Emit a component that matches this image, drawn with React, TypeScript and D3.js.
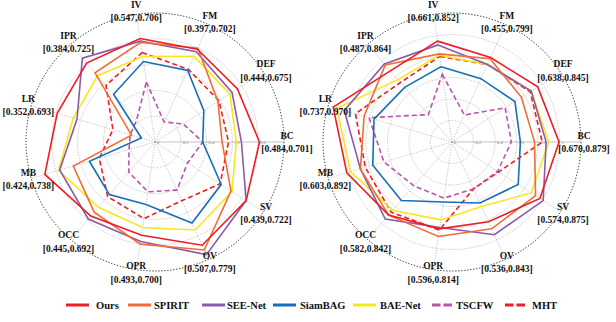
import React from "react";
import * as d3 from "d3";

const AXES = ["IV", "FM", "DEF", "BC", "SV", "OV", "OPR", "OCC", "MB", "LR", "IPR"];

const LEFT_RANGES = ["[0.547,0.706]", "[0.397,0.702]", "[0.444,0.675]", "[0.484,0.701]", "[0.439,0.722]", "[0.507,0.779]", "[0.493,0.700]", "[0.445,0.692]", "[0.424,0.738]", "[0.352,0.693]", "[0.384,0.725]"];
const RIGHT_RANGES = ["[0.661,0.852]", "[0.455,0.799]", "[0.638,0.845]", "[0.670,0.879]", "[0.574,0.875]", "[0.536,0.843]", "[0.596,0.814]", "[0.582,0.842]", "[0.603,0.892]", "[0.737,0.970]", "[0.487,0.864]"];

const METHODS = ["Ours", "SPIRIT", "SEE-Net", "SiamBAG", "BAE-Net", "TSCFW", "MHT"];
const COLORS = ["#ee1c24", "#f26c35", "#8c5aab", "#166eb9", "#f8e71c", "#bd52ad", "#ee1c24"];
const DASHED = [false, false, false, false, false, true, true];

// values per axis (IV, FM, DEF, BC, SV, OV, OPR, OCC, MB, LR, IPR), as fraction of outer radius
const LEFT_OURS = [0.81, 0.79, 0.76, 0.81, 0.84, 0.88, 0.73, 0.76, 0.89, 0.79, 0.81];
const LEFT_SPIRIT = [0.78, 0.80, 0.58, 0.52, 0.70, 0.92, 0.80, 0.72, 0.66, 0.19, 0.71];
const LEFT_SEENET = [0.79, 0.77, 0.71, 0.67, 0.84, 0.96, 0.78, 0.79, 0.77, 0.63, 0.86];
const LEFT_SIAMBAG = [0.63, 0.61, 0.45, 0.37, 0.61, 0.69, 0.49, 0.54, 0.53, 0.11, 0.49];
const LEFT_BAENET = [0.67, 0.73, 0.69, 0.63, 0.71, 0.75, 0.67, 0.67, 0.78, 0.66, 0.68];
const LEFT_TSCFW = [0.47, 0.17, 0.26, 0.37, 0.30, 0.41, 0.39, 0.31, 0.21, 0.20, 0.22];
const LEFT_MHT = [0.70, 0.62, 0.59, 0.57, 0.60, 0.50, 0.60, 0.56, 0.45, 0.34, 0.58];

const RIGHT_OURS = [0.79, 0.72, 0.79, 0.83, 0.81, 0.68, 0.68, 0.75, 0.85, 0.96, 0.73];
const RIGHT_SPIRIT = [0.69, 0.71, 0.64, 0.64, 0.77, 0.74, 0.74, 0.75, 0.74, 0.71, 0.79];
const RIGHT_SEENET = [0.76, 0.66, 0.73, 0.73, 0.84, 0.79, 0.67, 0.79, 0.74, 0.87, 0.80];
const RIGHT_SIAMBAG = [0.59, 0.54, 0.58, 0.53, 0.61, 0.52, 0.47, 0.60, 0.64, 0.63, 0.56];
const RIGHT_BAENET = [0.68, 0.66, 0.73, 0.75, 0.73, 0.55, 0.61, 0.70, 0.82, 0.93, 0.64];
const RIGHT_TSCFW = [0.53, 0.23, 0.49, 0.46, 0.42, 0.40, 0.44, 0.45, 0.55, 0.67, 0.28];
const RIGHT_MHT = [0.67, 0.66, 0.72, 0.70, 0.43, 0.40, 0.69, 0.72, 0.70, 0.78, 0.61];

const LEFT_RING_LABELS = ["0", "0.2", "0.4", "0.6", "0.8"];
const RIGHT_RING_LABELS = ["0", "0.2", "0.4", "0.6", "0.8", "1"];

const LEFT_SERIES = [LEFT_OURS, LEFT_SPIRIT, LEFT_SEENET, LEFT_SIAMBAG, LEFT_BAENET, LEFT_TSCFW, LEFT_MHT];
const RIGHT_SERIES = [RIGHT_OURS, RIGHT_SPIRIT, RIGHT_SEENET, RIGHT_SIAMBAG, RIGHT_BAENET, RIGHT_TSCFW, RIGHT_MHT];

// layout
const W = 616;
const H = 322;
const R = 129;
const FONT = "'Liberation Serif', 'Times New Roman', serif";
const LEGEND_LINE_X = [66, 128, 202, 273, 353, 432, 505];
const LEGEND_TEXT_X = [96, 154, 227, 300, 380, 456, 532];

const angleOf = (i: number) => Math.PI / 2 - ((3 - i) * 2 * Math.PI) / 11;

function Radar({ cx, cy, ranges, series, ringLabels }: { cx: number; cy: number; ranges: string[]; series: number[][]; ringLabels: string[] }) {
  const r = d3.scaleLinear().domain([0, 1]).range([0, R]);
  const nRings = ringLabels.length;
  const ringFracs = ringLabels.map((_, k) => k / nRings);
  const line = d3
    .lineRadial<number>()
    .angle((_, i) => angleOf(i))
    .radius((d) => r(d))
    .curve(d3.curveLinearClosed);
  const pt = (i: number, rad: number) => {
    const a = angleOf(i);
    return [cx + rad * Math.sin(a), cy - rad * Math.cos(a)];
  };
  const order = [6, 5, 4, 3, 2, 1, 0];
  return (
    <g>
      {ringFracs.slice(1).map((f, k) => (
        <circle key={k} cx={cx} cy={cy} r={r(f)} fill="none" stroke="#9a9a9a" strokeWidth={0.6} strokeDasharray="1.2 1.4" />
      ))}
      {AXES.map((_, i) => {
        const [x, y] = pt(i, R);
        return (
          <line key={i} x1={cx} y1={cy} x2={x} y2={y} stroke="#9a9a9a" strokeWidth={0.6} strokeDasharray={i === 3 ? undefined : "1.2 1.4"} />
        );
      })}
      <circle cx={cx} cy={cy} r={R} fill="none" stroke="#111" strokeWidth={0.9} strokeDasharray="1.3 1.7" />
      {ringLabels.map((t, k) => (
        <text key={k} x={cx + r(ringFracs[k]) + 2} y={cy + 1.8} fontSize={4.5} fill="#8a8a8a" fontFamily={FONT}>
          {t}
        </text>
      ))}
      <g transform={`translate(${cx},${cy})`}>
        {order.map((s) => (
          <path
            key={s}
            d={line(series[s]) || ""}
            fill="none"
            stroke={COLORS[s]}
            strokeWidth={1.6}
            strokeDasharray={DASHED[s] ? "5 3" : undefined}
            strokeLinejoin="miter"
          />
        ))}
      </g>
      {AXES.map((name, i) => {
        const [x, y] = pt(i, 132);
        return (
          <g key={name} fontFamily={FONT} fontWeight="bold" fontSize={9.5} fill="#111" textAnchor="middle">
            <text x={x} y={y - 3.3}>{name}</text>
            <text x={x} y={y + 10}>{ranges[i]}</text>
          </g>
        );
      })}
    </g>
  );
}

export default function App() {
  return (
    <div style={{ position: "fixed", left: 0, top: 0, width: W, height: H, background: "#fff" }}>
      <svg width={W} height={H} viewBox={`0 0 ${W} ${H}`} style={{ display: "block" }}>
        <rect width={W} height={H} fill="#fff" />
        <Radar cx={155} cy={142} ranges={LEFT_RANGES} series={LEFT_SERIES} ringLabels={LEFT_RING_LABELS} />
        <Radar cx={452} cy={142} ranges={RIGHT_RANGES} series={RIGHT_SERIES} ringLabels={RIGHT_RING_LABELS} />
        {METHODS.map((m, s) => (
          <g key={m}>
            <line
              x1={LEGEND_LINE_X[s]}
              x2={LEGEND_LINE_X[s] + (DASHED[s] ? 20 : 23)}
              y1={305}
              y2={305}
              stroke={COLORS[s]}
              strokeWidth={3}
              strokeDasharray={DASHED[s] ? "8.5 3" : undefined}
            />
            <text x={LEGEND_TEXT_X[s]} y={308.5} fontFamily={FONT} fontWeight="bold" fontSize={10.5} fill="#111">
              {m}
            </text>
          </g>
        ))}
      </svg>
    </div>
  );
}
